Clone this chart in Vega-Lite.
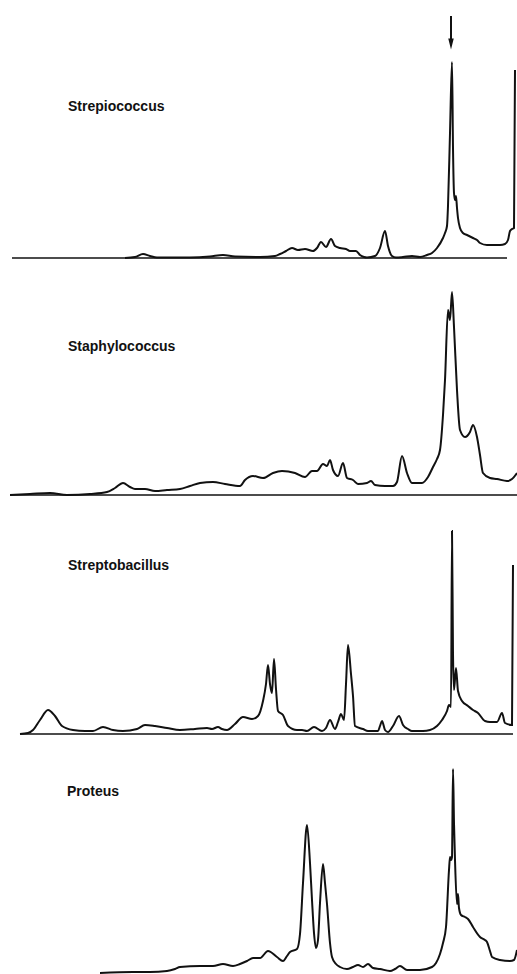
{
  "$schema": "https://vega.github.io/schema/vega-lite/v6.json",
  "padding": 0,
  "spacing": 0,
  "bounds": "flush",
  "background": "white",
  "config": {"view": {"stroke": null}, "text": {"font": "Liberation Sans", "fontWeight": "bold", "fontSize": 14, "color": "#111", "align": "left", "baseline": "middle"}},
  "datasets": {
    "baselines": [
      {"p": 1, "t0": 12, "t1": 507, "r": 0},
      {"p": 2, "t0": 10, "t1": 517, "r": 0},
      {"p": 3, "t0": 20, "t1": 513, "r": 0}
    ],
    "labels": [
      {"p": 1, "t": 68, "r": 151, "label": "Strepiococcus"},
      {"p": 2, "t": 68, "r": 148, "label": "Staphylococcus"},
      {"p": 3, "t": 68, "r": 168, "label": "Streptobacillus"},
      {"p": 4, "t": 67, "r": 181, "label": "Proteus"}
    ],
    "arrow": [{"t": 451, "r0": 242, "r1": 218, "rh": 214}],
    "curves": [
      {"p":1,"t":125,"r":0},{"p":1,"t":135,"r":1},{"p":1,"t":143,"r":4},{"p":1,"t":150,"r":2},{"p":1,"t":157,"r":0.5},{"p":1,"t":190,"r":0.5},{"p":1,"t":210,"r":1.5},{"p":1,"t":223,"r":3},{"p":1,"t":235,"r":1.5},{"p":1,"t":260,"r":1},{"p":1,"t":275,"r":2},{"p":1,"t":280,"r":4},{"p":1,"t":286,"r":7},{"p":1,"t":292,"r":10},{"p":1,"t":298,"r":8},{"p":1,"t":305,"r":9},{"p":1,"t":313,"r":7},{"p":1,"t":317,"r":10},{"p":1,"t":321,"r":16},{"p":1,"t":326,"r":11},{"p":1,"t":331,"r":19},{"p":1,"t":335,"r":12},{"p":1,"t":340,"r":10},{"p":1,"t":346,"r":9},{"p":1,"t":350,"r":7},{"p":1,"t":356,"r":7},{"p":1,"t":360,"r":3},{"p":1,"t":364,"r":1},{"p":1,"t":367,"r":0.5},{"p":1,"t":375,"r":2},{"p":1,"t":380,"r":10},{"p":1,"t":385,"r":27},{"p":1,"t":388,"r":12},{"p":1,"t":392,"r":2},{"p":1,"t":396,"r":0.5},{"p":1,"t":403,"r":1},{"p":1,"t":412,"r":2},{"p":1,"t":420,"r":1},{"p":1,"t":427,"r":3},{"p":1,"t":432,"r":5},{"p":1,"t":437,"r":10},{"p":1,"t":443,"r":20},{"p":1,"t":445,"r":25},{"p":1,"t":447,"r":32},{"p":1,"t":448,"r":52},{"p":1,"t":450,"r":125},{"p":1,"t":452,"r":196},{"p":1,"t":453,"r":110},{"p":1,"t":454,"r":65},{"p":1,"t":455,"r":58},{"p":1,"t":456,"r":62},{"p":1,"t":457,"r":50},{"p":1,"t":458,"r":40},{"p":1,"t":460,"r":30},{"p":1,"t":463,"r":25},{"p":1,"t":467,"r":23},{"p":1,"t":473,"r":20},{"p":1,"t":477,"r":18},{"p":1,"t":480,"r":15},{"p":1,"t":487,"r":13},{"p":1,"t":493,"r":13},{"p":1,"t":500,"r":13},{"p":1,"t":505,"r":14},{"p":1,"t":508,"r":18},{"p":1,"t":510,"r":27},{"p":1,"t":512,"r":29},{"p":1,"t":514,"r":30},{"p":1,"t":515,"r":188},
      {"p":2,"t":10,"r":0},{"p":2,"t":30,"r":1},{"p":2,"t":50,"r":2},{"p":2,"t":67,"r":0},{"p":2,"t":90,"r":1},{"p":2,"t":107,"r":3},{"p":2,"t":115,"r":7},{"p":2,"t":123,"r":12},{"p":2,"t":130,"r":8},{"p":2,"t":135,"r":6},{"p":2,"t":145,"r":6},{"p":2,"t":155,"r":4},{"p":2,"t":167,"r":5},{"p":2,"t":180,"r":6},{"p":2,"t":190,"r":9},{"p":2,"t":200,"r":12},{"p":2,"t":213,"r":13},{"p":2,"t":225,"r":11},{"p":2,"t":240,"r":9},{"p":2,"t":245,"r":15},{"p":2,"t":253,"r":19},{"p":2,"t":263,"r":17},{"p":2,"t":273,"r":22},{"p":2,"t":282,"r":24},{"p":2,"t":295,"r":22},{"p":2,"t":305,"r":18},{"p":2,"t":312,"r":24},{"p":2,"t":317,"r":24},{"p":2,"t":323,"r":31},{"p":2,"t":327,"r":29},{"p":2,"t":330,"r":35},{"p":2,"t":333,"r":25},{"p":2,"t":338,"r":19},{"p":2,"t":343,"r":32},{"p":2,"t":347,"r":17},{"p":2,"t":353,"r":15},{"p":2,"t":358,"r":11},{"p":2,"t":367,"r":12},{"p":2,"t":371,"r":14},{"p":2,"t":375,"r":10},{"p":2,"t":385,"r":9},{"p":2,"t":393,"r":9},{"p":2,"t":397,"r":13},{"p":2,"t":402,"r":39},{"p":2,"t":407,"r":22},{"p":2,"t":412,"r":12},{"p":2,"t":422,"r":12},{"p":2,"t":428,"r":18},{"p":2,"t":433,"r":28},{"p":2,"t":437,"r":36},{"p":2,"t":440,"r":45},{"p":2,"t":443,"r":80},{"p":2,"t":445,"r":115},{"p":2,"t":448,"r":185},{"p":2,"t":450,"r":175},{"p":2,"t":452,"r":203},{"p":2,"t":454,"r":168},{"p":2,"t":457,"r":105},{"p":2,"t":460,"r":65},{"p":2,"t":465,"r":58},{"p":2,"t":470,"r":63},{"p":2,"t":473,"r":70},{"p":2,"t":477,"r":58},{"p":2,"t":480,"r":40},{"p":2,"t":483,"r":22},{"p":2,"t":490,"r":17},{"p":2,"t":497,"r":16},{"p":2,"t":507,"r":14},{"p":2,"t":512,"r":16},{"p":2,"t":517,"r":22},
      {"p":3,"t":20,"r":0},{"p":3,"t":28,"r":1},{"p":3,"t":33,"r":4},{"p":3,"t":40,"r":14},{"p":3,"t":48,"r":24},{"p":3,"t":55,"r":18},{"p":3,"t":62,"r":8},{"p":3,"t":73,"r":4},{"p":3,"t":85,"r":3},{"p":3,"t":93,"r":3},{"p":3,"t":103,"r":7},{"p":3,"t":113,"r":4},{"p":3,"t":123,"r":3},{"p":3,"t":137,"r":5},{"p":3,"t":145,"r":9},{"p":3,"t":155,"r":8},{"p":3,"t":167,"r":6},{"p":3,"t":180,"r":4},{"p":3,"t":195,"r":5},{"p":3,"t":207,"r":6},{"p":3,"t":212,"r":5},{"p":3,"t":218,"r":7},{"p":3,"t":222,"r":5},{"p":3,"t":227,"r":4},{"p":3,"t":235,"r":10},{"p":3,"t":243,"r":17},{"p":3,"t":252,"r":15},{"p":3,"t":258,"r":18},{"p":3,"t":263,"r":33},{"p":3,"t":266,"r":50},{"p":3,"t":268,"r":69},{"p":3,"t":270,"r":50},{"p":3,"t":272,"r":41},{"p":3,"t":274,"r":75},{"p":3,"t":276,"r":45},{"p":3,"t":278,"r":23},{"p":3,"t":283,"r":19},{"p":3,"t":288,"r":8},{"p":3,"t":297,"r":4},{"p":3,"t":302,"r":4},{"p":3,"t":307,"r":3},{"p":3,"t":314,"r":7},{"p":3,"t":322,"r":3},{"p":3,"t":326,"r":6},{"p":3,"t":330,"r":14},{"p":3,"t":335,"r":5},{"p":3,"t":338,"r":12},{"p":3,"t":341,"r":20},{"p":3,"t":344,"r":14},{"p":3,"t":346,"r":50},{"p":3,"t":348,"r":89},{"p":3,"t":351,"r":60},{"p":3,"t":353,"r":38},{"p":3,"t":355,"r":8},{"p":3,"t":363,"r":5},{"p":3,"t":368,"r":3},{"p":3,"t":378,"r":3},{"p":3,"t":380,"r":8},{"p":3,"t":382,"r":13},{"p":3,"t":385,"r":4},{"p":3,"t":388,"r":2},{"p":3,"t":393,"r":8},{"p":3,"t":399,"r":18},{"p":3,"t":403,"r":9},{"p":3,"t":408,"r":5},{"p":3,"t":412,"r":3},{"p":3,"t":423,"r":3},{"p":3,"t":430,"r":4},{"p":3,"t":437,"r":8},{"p":3,"t":442,"r":14},{"p":3,"t":447,"r":23},{"p":3,"t":449,"r":29},{"p":3,"t":451,"r":27},{"p":3,"t":452,"r":203},{"p":3,"t":453,"r":80},{"p":3,"t":454,"r":44},{"p":3,"t":456,"r":66},{"p":3,"t":458,"r":43},{"p":3,"t":462,"r":33},{"p":3,"t":468,"r":28},{"p":3,"t":473,"r":24},{"p":3,"t":478,"r":21},{"p":3,"t":485,"r":13},{"p":3,"t":490,"r":12},{"p":3,"t":497,"r":12},{"p":3,"t":502,"r":21},{"p":3,"t":505,"r":11},{"p":3,"t":512,"r":9},{"p":3,"t":513,"r":169},
      {"p":4,"t":100,"r":0},{"p":4,"t":133,"r":1},{"p":4,"t":150,"r":1},{"p":4,"t":167,"r":2},{"p":4,"t":175,"r":4},{"p":4,"t":180,"r":6},{"p":4,"t":200,"r":7},{"p":4,"t":213,"r":7},{"p":4,"t":223,"r":9},{"p":4,"t":233,"r":7},{"p":4,"t":240,"r":9},{"p":4,"t":247,"r":12},{"p":4,"t":253,"r":15},{"p":4,"t":260,"r":15},{"p":4,"t":268,"r":22},{"p":4,"t":277,"r":16},{"p":4,"t":283,"r":12},{"p":4,"t":287,"r":17},{"p":4,"t":290,"r":21},{"p":4,"t":297,"r":24},{"p":4,"t":300,"r":39},{"p":4,"t":303,"r":90},{"p":4,"t":307,"r":148},{"p":4,"t":310,"r":110},{"p":4,"t":312,"r":73},{"p":4,"t":314,"r":40},{"p":4,"t":316,"r":25},{"p":4,"t":318,"r":33},{"p":4,"t":320,"r":70},{"p":4,"t":323,"r":109},{"p":4,"t":325,"r":90},{"p":4,"t":327,"r":69},{"p":4,"t":330,"r":30},{"p":4,"t":332,"r":16},{"p":4,"t":336,"r":9},{"p":4,"t":340,"r":6},{"p":4,"t":347,"r":4},{"p":4,"t":353,"r":6},{"p":4,"t":358,"r":8},{"p":4,"t":363,"r":6},{"p":4,"t":368,"r":9},{"p":4,"t":373,"r":5},{"p":4,"t":380,"r":4},{"p":4,"t":390,"r":2},{"p":4,"t":395,"r":4},{"p":4,"t":400,"r":7},{"p":4,"t":407,"r":3},{"p":4,"t":420,"r":3},{"p":4,"t":432,"r":6},{"p":4,"t":436,"r":10},{"p":4,"t":440,"r":19},{"p":4,"t":443,"r":30},{"p":4,"t":446,"r":46},{"p":4,"t":449,"r":103},{"p":4,"t":450,"r":116},{"p":4,"t":451,"r":113},{"p":4,"t":452,"r":116},{"p":4,"t":453,"r":204},{"p":4,"t":454,"r":150},{"p":4,"t":455,"r":113},{"p":4,"t":457,"r":69},{"p":4,"t":458,"r":79},{"p":4,"t":459,"r":65},{"p":4,"t":461,"r":58},{"p":4,"t":465,"r":56},{"p":4,"t":468,"r":54},{"p":4,"t":473,"r":46},{"p":4,"t":480,"r":36},{"p":4,"t":485,"r":33},{"p":4,"t":487,"r":31},{"p":4,"t":490,"r":22},{"p":4,"t":492,"r":16},{"p":4,"t":500,"r":13},{"p":4,"t":510,"r":12},{"p":4,"t":514,"r":13},{"p":4,"t":517,"r":23}
    ]
  },
  "vconcat": [
    {
      "width": 517, "height": 258,
      "layer": [
        {"data": {"name": "baselines"}, "transform": [{"filter": "datum.p == 1"}],
         "mark": {"type": "rule", "color": "#111", "strokeWidth": 1.5},
         "encoding": {"x": {"field": "t0", "type": "quantitative", "scale": {"domain": [0, 517], "nice": false, "zero": false}, "axis": null}, "x2": {"field": "t1"},
                      "y": {"field": "r", "type": "quantitative", "scale": {"domain": [0, 258], "nice": false, "zero": false}, "axis": null}}},
        {"data": {"name": "curves"}, "transform": [{"filter": "datum.p == 1"}],
         "mark": {"type": "line", "color": "#111", "strokeWidth": 2, "interpolate": "monotone"},
         "encoding": {"x": {"field": "t", "type": "quantitative"}, "y": {"field": "r", "type": "quantitative"}}},
        {"data": {"name": "arrow"},
         "mark": {"type": "rule", "color": "#111", "strokeWidth": 2},
         "encoding": {"x": {"field": "t", "type": "quantitative"}, "y": {"field": "r0", "type": "quantitative"}, "y2": {"field": "r1"}}},
        {"data": {"name": "arrow"},
         "mark": {"type": "point", "filled": true, "color": "#111", "opacity": 1, "shape": "M-0.5,-1L0.5,-1L0,1Z", "size": 121},
         "encoding": {"x": {"field": "t", "type": "quantitative"}, "y": {"field": "rh", "type": "quantitative"}}},
        {"data": {"name": "labels"}, "transform": [{"filter": "datum.p == 1"}],
         "mark": {"type": "text"},
         "encoding": {"x": {"field": "t", "type": "quantitative"}, "y": {"field": "r", "type": "quantitative"}, "text": {"field": "label"}}}
      ]
    },
    {
      "width": 517, "height": 237,
      "layer": [
        {"data": {"name": "baselines"}, "transform": [{"filter": "datum.p == 2"}],
         "mark": {"type": "rule", "color": "#111", "strokeWidth": 1.5},
         "encoding": {"x": {"field": "t0", "type": "quantitative", "scale": {"domain": [0, 517], "nice": false, "zero": false}, "axis": null}, "x2": {"field": "t1"},
                      "y": {"field": "r", "type": "quantitative", "scale": {"domain": [0, 237], "nice": false, "zero": false}, "axis": null}}},
        {"data": {"name": "curves"}, "transform": [{"filter": "datum.p == 2"}],
         "mark": {"type": "line", "color": "#111", "strokeWidth": 2, "interpolate": "monotone"},
         "encoding": {"x": {"field": "t", "type": "quantitative"}, "y": {"field": "r", "type": "quantitative"}}},
        {"data": {"name": "labels"}, "transform": [{"filter": "datum.p == 2"}],
         "mark": {"type": "text"},
         "encoding": {"x": {"field": "t", "type": "quantitative"}, "y": {"field": "r", "type": "quantitative"}, "text": {"field": "label"}}}
      ]
    },
    {
      "width": 517, "height": 239,
      "layer": [
        {"data": {"name": "baselines"}, "transform": [{"filter": "datum.p == 3"}],
         "mark": {"type": "rule", "color": "#111", "strokeWidth": 1.5},
         "encoding": {"x": {"field": "t0", "type": "quantitative", "scale": {"domain": [0, 517], "nice": false, "zero": false}, "axis": null}, "x2": {"field": "t1"},
                      "y": {"field": "r", "type": "quantitative", "scale": {"domain": [0, 239], "nice": false, "zero": false}, "axis": null}}},
        {"data": {"name": "curves"}, "transform": [{"filter": "datum.p == 3"}],
         "mark": {"type": "line", "color": "#111", "strokeWidth": 2, "interpolate": "monotone"},
         "encoding": {"x": {"field": "t", "type": "quantitative"}, "y": {"field": "r", "type": "quantitative"}}},
        {"data": {"name": "labels"}, "transform": [{"filter": "datum.p == 3"}],
         "mark": {"type": "text"},
         "encoding": {"x": {"field": "t", "type": "quantitative"}, "y": {"field": "r", "type": "quantitative"}, "text": {"field": "label"}}}
      ]
    },
    {
      "width": 517, "height": 240,
      "layer": [
        {"data": {"name": "curves"}, "transform": [{"filter": "datum.p == 4"}],
         "mark": {"type": "line", "color": "#111", "strokeWidth": 2, "interpolate": "monotone"},
         "encoding": {"x": {"field": "t", "type": "quantitative", "scale": {"domain": [0, 517], "nice": false, "zero": false}, "axis": null},
                      "y": {"field": "r", "type": "quantitative", "scale": {"domain": [-1, 239], "nice": false, "zero": false}, "axis": null}}},
        {"data": {"name": "labels"}, "transform": [{"filter": "datum.p == 4"}],
         "mark": {"type": "text"},
         "encoding": {"x": {"field": "t", "type": "quantitative"}, "y": {"field": "r", "type": "quantitative"}, "text": {"field": "label"}}}
      ]
    }
  ]
}
